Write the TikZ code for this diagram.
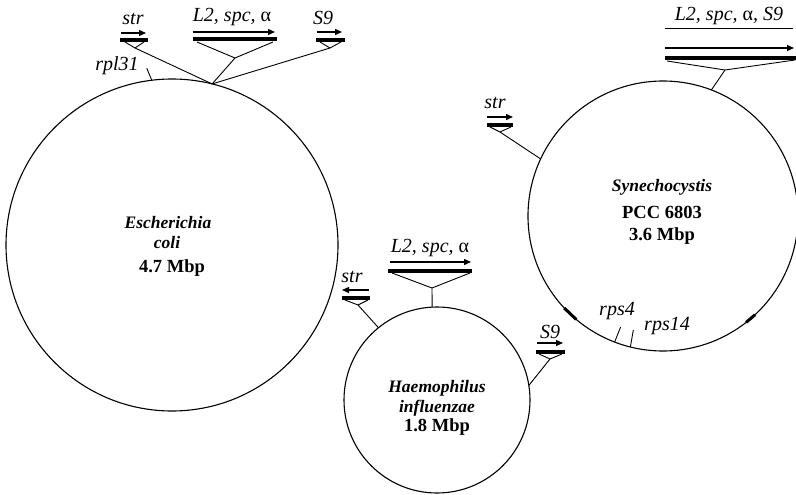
\documentclass[tikz,border=0pt]{standalone}
\usepackage{fontspec}
\setmainfont{Liberation Serif}
\usetikzlibrary{arrows.meta}

\begin{document}
\begin{tikzpicture}[x=1pt,y=-1pt,
    genome/.style={circle,draw,line width=1.1pt,inner sep=0pt,outer sep=0pt},
    gene/.style={font=\fontsize{20}{22}\selectfont\itshape,inner sep=0pt},
    species/.style={font=\fontsize{17.5}{19}\selectfont\bfseries\itshape,inner sep=0pt},
    gsize/.style={font=\fontsize{18.5}{20}\selectfont\bfseries,inner sep=0pt},
    operon/.style={line width=4.5pt},
    dir/.style={line width=1.3pt,-{Triangle[length=7pt,width=6pt]}},
    stalk/.style={line width=0.9pt},
    tag/.style={line width=3pt}]
\useasboundingbox (0,0) rectangle (796,495);

% the three chromosomes
\node[genome,minimum size=332pt] (ecoli) at (172,245) {};
\node[genome,minimum size=270pt] (syne) at (663,216) {};
\node[genome,minimum size=186pt] (haem) at (437,400) {};

\node[species] (ecName) at (168,223) {Escherichia};
\node[species] (ecName2) at (167,243) {coli};
\node[gsize] (ecSize) at (172,268) {4.7 Mbp};
\node[species] (syName) at (662,187) {Synechocystis};
\node[gsize] (syName2) at (662,212) {PCC 6803};
\node[gsize] (sySize) at (662,236) {3.6 Mbp};
\node[species] (haName) at (437,388) {Haemophilus};
\node[species] (haName2) at (437,408) {influenzae};
\node[gsize] (haSize) at (437,427) {1.8 Mbp};

% E. coli
\node[gene] (ecStrL) at (133,19) {str};
\draw[dir] (121,33) -- (146,33);
\draw[operon] (120,40) -- (148,40);
\coordinate (ecStr) at (135,48);
\draw[stalk] (125,42) -- (ecStr) -- (144,42);
\node[gene] (ecL2L) at (232,17) {L2, spc, {\upshape α}};
\draw[dir] (193,32) -- (275,32);
\draw[operon] (193,39) -- (277,39);
\coordinate (ecL2) at (235,58);
\draw[stalk] (197,42) -- (ecL2) -- (273,42);
\node[gene] (ecS9L) at (323,18) {S9};
\draw[dir] (317,32) -- (342,32);
\draw[operon] (316,40) -- (345,40);
\coordinate (ecS9) at (330,48);
\draw[stalk] (320,42) -- (ecS9) -- (341,42);
\draw[stalk] (ecStr) -- (ecoli.76);
\draw[stalk] (ecL2) -- (ecoli.76);
\draw[stalk] (ecS9) -- (ecoli.76);
\node[gene] (rpl) at (117,66) {rpl31};
\draw[stalk] (ecoli.97) -- ++(-5,-12);

% Synechocystis
\node[gene] (syL2L) at (729,16) {L2, spc, {\upshape α}, S9};
\draw[line width=0.6pt] (665,28) -- (793,28);
\draw[dir] (665,48) -- (794,48);
\draw[operon] (665,58) -- (796,58);
\coordinate (syL2) at (725,70);
\draw[stalk] (667,61) -- (syL2) -- (795,60);
\draw[stalk] (syL2) -- (syne.69);
\node[gene] (syStrL) at (495,103) {str};
\draw[dir] (487,117) -- (513,117);
\draw[operon] (487,125) -- (513,125);
\coordinate (syStr) at (500,132);
\draw[stalk] (490,127) -- (syStr) -- (511,127);
\draw[stalk] (syStr) -- (syne.155.5);
\draw[tag] (syne.223) -- (syne.230);
\draw[tag] (syne.308) -- (syne.313.5);
\node[gene] (rps4) at (617,311) {rps4};
\draw[stalk] (syne.249.5) -- ++(6,-15);
\node[gene] (rps14) at (667,326) {rps14};
\draw[stalk] (syne.256) -- ++(3,-17);

% Haemophilus
\node[gene] (haL2L) at (430,248) {L2, spc, {\upshape α}};
\draw[dir] (390,262) -- (471,262);
\draw[operon] (388,271) -- (472,271);
\coordinate (haL2) at (432,288);
\draw[stalk] (392,273) -- (haL2) -- (470,273);
\draw[stalk] (haL2) -- (haem.93);
\node[gene] (haStrL) at (352,277) {str};
\draw[dir] (369,290) -- (342,290);
\draw[operon] (342,298) -- (370,298);
\coordinate (haStr) at (358,305);
\draw[stalk] (345,300) -- (haStr) -- (368,300);
\draw[stalk] (haStr) -- (haem.129);
\node[gene] (haS9L) at (550,332) {S9};
\draw[dir] (537,343) -- (563,343);
\draw[operon] (536,352) -- (565,352);
\coordinate (haS9) at (550,359);
\draw[stalk] (539,354) -- (haS9) -- (562,354);
\draw[stalk] (haS9) -- (haem.9);
\end{tikzpicture}
\end{document}
